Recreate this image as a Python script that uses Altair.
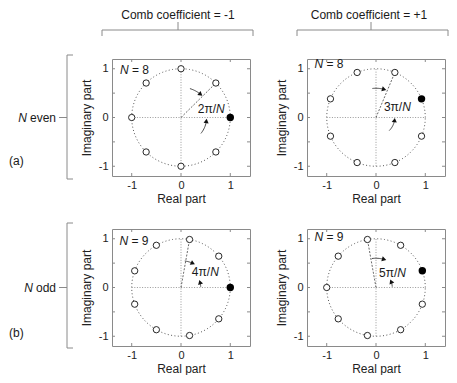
import altair as alt
import pandas as pd

FONT = "Liberation Sans"
W, H = 138, 117

# ---------------- data ----------------
x_domain = [-1.4, 1.4]
y_domain = [-1.2, 1.2]
axis_ticks = [-1, 0, 1]
x_edge_ticks = [-1, 0, 1]
y_edge_ticks = [-1, -0.5, 0, 0.5, 1]

headers = ["Comb coefficient = -1", "Comb coefficient = +1"]
row_words = [" even", " odd"]
row_tags = ["(a)", "(b)"]

n_values = ["8", "8", "9", "9"]
zero_angles = [
    [45, 90, 135, 180, 225, 270, 315],
    [67.5, 112.5, 157.5, 202.5, 247.5, 292.5, 337.5],
    [40, 80, 120, 160, 200, 240, 280, 320],
    [60, 100, 140, 180, 220, 260, 300, 340],
]
pole_angles = [0, 22.5, 0, 20]
radius_angles = [45, 67.5, 80, 100]
angle_numer = ["2π/", "3π/", "4π/", "5π/"]
label_x = [0.63, 0.45, 0.51, 0.35]
label_y = [0.17, 0.21, 0.32, 0.30]
nlabel_x = [-1.24, -1.25, -1.25, -1.25]
nlabel_y = [0.98, 1.10, 0.96, 1.04]
arcA_r = [0.62, 0.60, 0.55, 0.60]
arcA_from = [73, 97, 82, 98]
arcA_to = [50, 74, 64, 74]
arcB_r = [0.52, 0.38, 0.40, 0.33]
arcB_from = [-39, -45, 2, 3]
arcB_to = [-8, -8, 16, 22]
unit_circle = {"r": [1.0], "a0": [0.0], "a1": [360.0]}
axis_lines = {"x": [-1, 0], "y": [0, -1], "x2": [1, 0], "y2": [0, 1]}

TXT = "#1a1a1a"
GRAY = "#8a8a8a"


def labfix():
    return "replace(datum.label, '\u2212', '-')"


XS = alt.Scale(domain=x_domain, nice=False, zero=False)
YS = alt.Scale(domain=y_domain, nice=False, zero=False)
XA = alt.Axis(values=axis_ticks, title="Real part", labelExpr=labfix(),
              labelPadding=3, titlePadding=3)
YA = alt.Axis(values=axis_ticks, title="Imaginary part", labelExpr=labfix(),
              labelPadding=4, titlePadding=5)


def X(f):
    return alt.X(f, type="quantitative", scale=XS, axis=XA)


def Y(f):
    return alt.Y(f, type="quantitative", scale=YS, axis=YA)


def X2(f):
    return alt.X2(f)


def Y2(f):
    return alt.Y2(f)


dummy = pd.DataFrame({"d": [0]})


def prule(x1, x2, y1, y2, color=GRAY, width=1):
    return alt.Chart(dummy).mark_rule(color=color, strokeWidth=width).encode(
        x=alt.value(x1), x2=alt.value(x2), y=alt.value(y1), y2=alt.value(y2))


def ptext(txt, x, y, align="left", size=12, style="normal"):
    return alt.Chart(dummy).mark_text(
        text=txt, align=align, baseline="middle", font=FONT, fontSize=size,
        fontStyle=style, color=TXT).encode(x=alt.value(x), y=alt.value(y))


def arcs(df, step):
    return (alt.Chart(df)
            .transform_calculate(t=f"sequence(0, 1.00001, {step})")
            .transform_flatten(["t"])
            .transform_calculate(
                th="(datum.a0 + datum.t*(datum.a1 - datum.a0))*PI/180",
                x="datum.r*cos(datum.th)",
                y="datum.r*sin(datum.th)"))


def panel(i, row, col):
    layers = []
    # unit circle (dotted)
    layers.append(arcs(pd.DataFrame(unit_circle), 1 / 180).mark_line(
        color="#555", strokeWidth=1, strokeDash=[1, 2.4]).encode(
        x=X("x"), y=Y("y"), order="t:Q"))
    # axis lines through origin (dotted)
    layers.append(alt.Chart(pd.DataFrame(axis_lines)).mark_rule(
        color="#999", strokeWidth=1, strokeDash=[1, 1.6]).encode(
        x=X("x"), y=Y("y"), x2=X2("x2"), y2=Y2("y2")))
    # radius line to the labelled zero
    layers.append(alt.Chart(pd.DataFrame({"a": [radius_angles[i]]}))
                  .transform_calculate(x="0", y="0",
                                       x2="cos(datum.a*PI/180)",
                                       y2="sin(datum.a*PI/180)")
                  .mark_rule(color="#444", strokeWidth=0.8, strokeDash=[2, 1.5])
                  .encode(x=X("x"), y=Y("y"), x2=X2("x2"), y2=Y2("y2")))
    # arrows (arcs + heads)
    adf = pd.DataFrame({"id": [0, 1],
                        "r": [arcA_r[i], arcB_r[i]],
                        "a0": [arcA_from[i], arcB_from[i]],
                        "a1": [arcA_to[i], arcB_to[i]]})
    layers.append(arcs(adf, 0.1).mark_line(color="#222", strokeWidth=0.8).encode(
        x=X("x"), y=Y("y"), detail="id:N", order="t:Q"))
    layers.append(alt.Chart(adf).transform_calculate(
        x="datum.r*cos(datum.a1*PI/180)",
        y="datum.r*sin(datum.a1*PI/180)",
        phi="datum.a1 + 90*(datum.a1 > datum.a0 ? 1 : -1)",
        ang="((90 - datum.phi) % 360 + 360) % 360").mark_point(
        shape="triangle-up", filled=True, color="#111", size=26, opacity=1).encode(
        x=X("x"), y=Y("y"), angle=alt.Angle("ang:Q", scale=None)))
    # zeros (open circles)
    layers.append(alt.Chart(pd.DataFrame({"a": zero_angles[i]})).transform_calculate(
        x="cos(datum.a*PI/180)", y="sin(datum.a*PI/180)").mark_point(
        shape="circle", filled=True, fill="white", stroke="#111", strokeWidth=0.9,
        size=40, opacity=1).encode(x=X("x"), y=Y("y")))
    # filled marker
    layers.append(alt.Chart(pd.DataFrame({"a": [pole_angles[i]]})).transform_calculate(
        x="cos(datum.a*PI/180)", y="sin(datum.a*PI/180)").mark_point(
        shape="circle", filled=True, color="#000", size=55, opacity=1).encode(
        x=X("x"), y=Y("y")))
    # texts in data space
    ndf = pd.DataFrame({"x": [nlabel_x[i]], "y": [nlabel_y[i]]})
    layers.append(alt.Chart(ndf).mark_text(text="N", align="left", baseline="middle",
                                           font=FONT, fontSize=12, fontStyle="italic",
                                           color=TXT).encode(x=X("x"), y=Y("y")))
    layers.append(alt.Chart(ndf).mark_text(text="= " + n_values[i], align="left",
                                           baseline="middle", dx=12, font=FONT,
                                           fontSize=12, color=TXT).encode(
        x=X("x"), y=Y("y")))
    ldf = pd.DataFrame({"x": [label_x[i]], "y": [label_y[i]]})
    layers.append(alt.Chart(ldf).mark_text(text=angle_numer[i], align="right",
                                           baseline="middle", dx=4, font=FONT,
                                           fontSize=12, color=TXT).encode(
        x=X("x"), y=Y("y")))
    layers.append(alt.Chart(ldf).mark_text(text="N", align="left", baseline="middle",
                                           dx=4, font=FONT, fontSize=12,
                                           fontStyle="italic", color=TXT).encode(
        x=X("x"), y=Y("y")))
    # inward edge ticks
    xt = pd.DataFrame({"v": x_edge_ticks})
    yt = pd.DataFrame({"v": y_edge_ticks})
    layers.append(alt.Chart(xt).mark_rule(color=GRAY).encode(
        x=X("v"), y=alt.value(0), y2=alt.value(3)))
    layers.append(alt.Chart(xt).mark_rule(color=GRAY).encode(
        x=X("v"), y=alt.value(H), y2=alt.value(H - 3)))
    layers.append(alt.Chart(yt).mark_rule(color=GRAY).encode(
        y=Y("v"), x=alt.value(0), x2=alt.value(3)))
    layers.append(alt.Chart(yt).mark_rule(color=GRAY).encode(
        y=Y("v"), x=alt.value(W), x2=alt.value(W - 3)))

    # decorations outside the plot
    if row == 0:
        mid = [66, 64][col]
        tx = [66, 62][col]
        left, right = -10, W + 3
        layers += [
            prule(left, right, -29, -29),
            prule(left, left, -29, -23),
            prule(right, right, -29, -23),
            prule(mid, mid, -37, -29),
            ptext(headers[col], tx, -44, align="center"),
        ]
    if col == 0:
        top = [-4, -6][row]
        bot = H + [3, 2][row]
        bx = -45
        layers += [
            prule(bx, bx, top, bot),
            prule(bx, bx + 6, top, top),
            prule(bx, bx + 6, bot, bot),
            prule(bx - 8, bx, H / 2, H / 2),
            ptext(row_words[row], -56, H / 2, align="right"),
            ptext("N", -56 - [29, 23][row], H / 2, align="right", style="italic"),
            ptext(row_tags[row], -103, [102, 104][row], align="left"),
        ]
    return alt.layer(*layers).properties(width=W, height=H)


panels = [panel(0, 0, 0), panel(1, 0, 1), panel(2, 1, 0), panel(3, 1, 1)]

chart = alt.concat(*panels, columns=2, spacing=alt.RowColnumber(row=53, column=57),
                   bounds="flush").properties(padding=0).configure_view(
    stroke=GRAY, strokeWidth=1).configure_axis(
    domain=False, ticks=False, grid=False, labelFont=FONT, labelFontSize=11,
    labelColor="#222", titleFont=FONT, titleFontSize=12, titleFontWeight="normal",
    titleColor="#222")

chart.save("out.html", embed_options={"renderer": "svg", "actions": False})
